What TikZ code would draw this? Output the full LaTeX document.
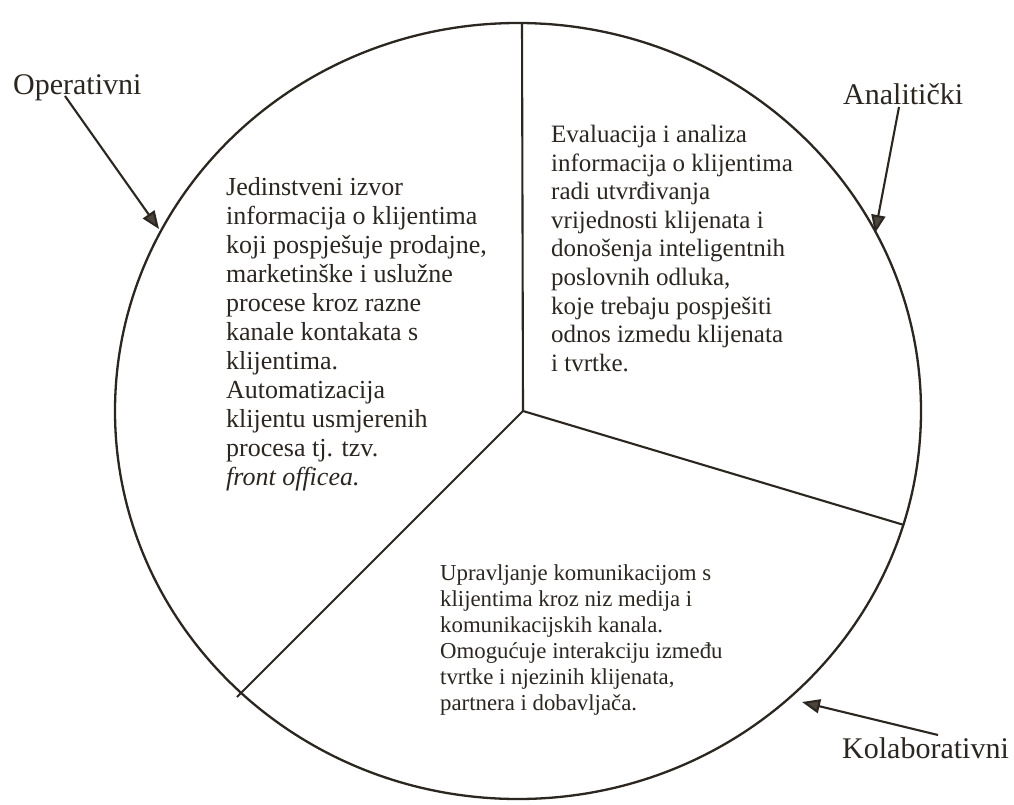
\documentclass[tikz,border=0pt]{standalone}
\usepackage{fontspec}
\setmainfont{Liberation Serif}
\usetikzlibrary{arrows.meta}
\definecolor{ink}{HTML}{2B2620}
\definecolor{tipfill}{HTML}{4A443D}
\begin{document}
\begin{tikzpicture}[x=1pt,y=-1pt,
  outline/.style={draw=ink, line width=2.3pt},
  divider/.style={draw=ink, line width=2.1pt},
  pointer/.style={draw=ink, line width=2.1pt, -{Triangle[length=18pt,width=14pt,fill=tipfill]}},
  tag/.style={inner sep=0pt, text=ink, font=\fontsize{30}{34}\selectfont, anchor=base west},
  blocka/.style={inner sep=0pt, text=ink, align=left, anchor=north west, font=\fontsize{26}{29}\selectfont},
  blockb/.style={inner sep=0pt, text=ink, align=left, anchor=north west, font=\fontsize{25}{28.6}\selectfont},
  blockc/.style={inner sep=0pt, text=ink, align=left, anchor=north west, font=\fontsize{22.8}{26}\selectfont}]
\useasboundingbox[fill=white] (0,0) rectangle (1014,805);

% pie outline
\draw[outline] (518,411) ellipse [x radius=403pt, y radius=388pt];

% junctions
\coordinate (hub) at (523,411);
\coordinate (top) at (522,23);
\coordinate (right) at (904,525);
\coordinate (lowleft) at (237,697);
\draw[divider] (hub) -- (top);
\draw[divider] (hub) -- (right);
\draw[divider] (hub) -- (lowleft);

% sector texts
\node[blocka] (optext) at (226,177) {Jedinstveni izvor\\
informacija o klijentima\\
koji pospješuje prodajne,\\
marketinške i uslužne\\
procese kroz razne\\
kanale kontakata s\\
klijentima.\\
Automatizacija\\
klijentu usmjerenih\\
procesa tj. tzv.\\
\textit{front officea.}};

\node[blockb] (antext) at (551,125) {Evaluacija i analiza\\
informacija o klijentima\\
radi utvrđivanja\\
vrijednosti klijenata i\\
donošenja inteligentnih\\
poslovnih odluka,\\
koje trebaju pospješiti\\
odnos izmedu klijenata\\
i tvrtke.};

\node[blockc] (kotext) at (440,564) {Upravljanje komunikacijom s\\
klijentima kroz niz medija i\\
komunikacijskih kanala.\\
Omogućuje interakciju između\\
tvrtke i njezinih klijenata,\\
partnera i dobavljača.};

% labels and pointers
\node[tag] (op) at (13,95) {Operativni};
\node[tag] (an) at (843,105) {Analitički};
\node[tag] (ko) at (842,758) {Kolaborativni};

\coordinate (opfrom) at (65,96);
\coordinate (optip) at (159,229);
\coordinate (anfrom) at (899,107);
\coordinate (antip) at (875,233);
\coordinate (kofrom) at (938,735);
\coordinate (kotip) at (802,702);
\draw[pointer] (opfrom) -- (optip);
\draw[pointer] (anfrom) -- (antip);
\draw[pointer] (kofrom) -- (kotip);
\end{tikzpicture}
\end{document}
